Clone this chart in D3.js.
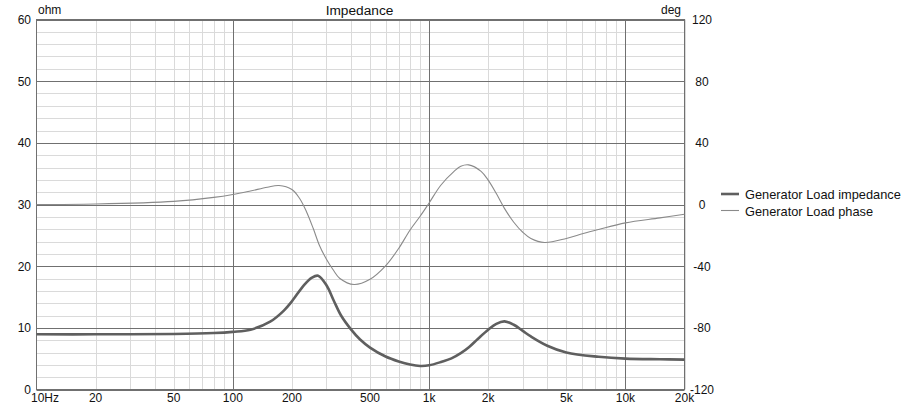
<!DOCTYPE html>
<html>
<head>
<meta charset="utf-8">
<script src="https://cdn.jsdelivr.net/npm/d3@7"></script>
<style>
body { margin:0; background:#fff; }
text { font-family: "Liberation Sans", Arial, sans-serif; font-size:12px; fill:#111; }
text.title { font-size:13.7px; }
text.leg { font-size:12.8px; }
</style>
</head>
<body>
<div id="chart"></div>
<script>
// impedance curve, frequency in Hz, value in ohm
var impFreq = [10, 20, 50, 80, 100, 123, 155, 182, 200, 230, 253, 272, 300, 327, 356, 400, 445, 500, 600, 700, 800, 900, 1000, 1160, 1300, 1450, 1600, 1770, 2000, 2200, 2420, 2700, 3000, 3300, 4000, 5000, 7300, 10000, 15000, 20000];
var impOhm  = [8.95, 8.95, 9.0, 9.15, 9.35, 9.7, 11.0, 12.8, 14.3, 16.9, 18.15, 18.45, 16.9, 14.4, 12.0, 9.75, 8.1, 6.8, 5.35, 4.55, 4.05, 3.82, 3.92, 4.5, 5.05, 5.9, 6.9, 8.2, 9.7, 10.65, 11.05, 10.5, 9.5, 8.6, 7.1, 6.0, 5.3, 5.0, 4.9, 4.85];

// phase curve, degrees
var phFreq = [10, 20, 50, 80, 100, 123, 150, 172, 200, 219, 237, 257, 276, 300, 327, 350, 415, 500, 600, 700, 800, 900, 1000, 1147, 1340, 1450, 1590, 1840, 2000, 2200, 2420, 2700, 3000, 3300, 3870, 5000, 6100, 7300, 10000, 15000, 20000];
var phDeg  = [0, 0.3, 2.0, 4.6, 6.5, 8.8, 11.2, 12.3, 9.7, 3.9, -4.5, -15.6, -26.4, -35.5, -43, -47.8, -51.9, -48.5, -39.8, -28.5, -16.5, -7.6, 1.0, 12.5, 21.5, 24.8, 25.7, 21.5, 15.8, 7.1, -2.5, -11.5, -18, -22, -24.6, -22, -18.8, -16.2, -11.9, -8.7, -6.3];

var xTicks = [10, 20, 50, 100, 200, 500, 1000, 2000, 5000, 10000, 20000];
var xTickLabels = ["10Hz", "20", "50", "100", "200", "500", "1k", "2k", "5k", "10k", "20k"];
var yTicks = [0, 10, 20, 30, 40, 50, 60];
var y2Ticks = [-120, -80, -40, 0, 40, 80, 120];
var seriesNames = ["Generator Load impedance", "Generator Load phase"];

var W = 919, H = 405;
var margin = {top: 19.5, left: 36.5, right: 234.5, bottom: 15.5};

var svg = d3.select("#chart").append("svg")
  .attr("width", W).attr("height", H);

var x = d3.scaleLog().domain([10, 20000]).range([margin.left, W - margin.right]);
var y = d3.scaleLinear().domain([0, 60]).range([H - margin.bottom, margin.top]);
var y2 = d3.scaleLinear().domain([-120, 120]).range([H - margin.bottom, margin.top]);

// minor grid
var minorX = [];
[10, 100, 1000, 10000].forEach(function(d) {
  for (var k = 2; k <= 9; k++) if (d * k <= 20000) minorX.push(d * k);
});
var minorY = d3.range(0, 61, 2).filter(function(v) { return v % 10 != 0; });

var grid = svg.append("g");
grid.selectAll(".mx").data(minorX).enter().append("line")
  .attr("x1", function(d) { return Math.round(x(d)) + 0.5; })
  .attr("x2", function(d) { return Math.round(x(d)) + 0.5; })
  .attr("y1", y(0)).attr("y2", y(60))
  .attr("stroke", "#dadada");
grid.selectAll(".my").data(minorY).enter().append("line")
  .attr("y1", function(d) { return Math.round(y(d)) + 0.5; })
  .attr("y2", function(d) { return Math.round(y(d)) + 0.5; })
  .attr("x1", x(10)).attr("x2", x(20000))
  .attr("stroke", "#dadada");

// major grid
grid.selectAll(".Mx").data([100, 1000, 10000]).enter().append("line")
  .attr("x1", function(d) { return Math.round(x(d)) + 0.5; })
  .attr("x2", function(d) { return Math.round(x(d)) + 0.5; })
  .attr("y1", y(0)).attr("y2", y(60))
  .attr("stroke", "#707070");
grid.selectAll(".My").data(yTicks).enter().append("line")
  .attr("y1", function(d) { return Math.round(y(d)) + 0.5; })
  .attr("y2", function(d) { return Math.round(y(d)) + 0.5; })
  .attr("x1", x(10)).attr("x2", x(20000))
  .attr("stroke", "#707070");

// frame
svg.append("rect")
  .attr("x", x(10)).attr("y", y(60))
  .attr("width", x(20000) - x(10)).attr("height", y(0) - y(60))
  .attr("fill", "none").attr("stroke", "#707070");

// curves
var impLine = d3.line()
  .x(function(d, i) { return x(impFreq[i]); })
  .y(function(d) { return y(d); })
  .curve(d3.curveCatmullRom.alpha(0.5));
var phLine = d3.line()
  .x(function(d, i) { return x(phFreq[i]); })
  .y(function(d) { return y2(d); })
  .curve(d3.curveCatmullRom.alpha(0.5));

svg.append("path").attr("d", phLine(phDeg))
  .attr("fill", "none").attr("stroke", "#8a8a8a").attr("stroke-width", 1.1);
svg.append("path").attr("d", impLine(impOhm))
  .attr("fill", "none").attr("stroke", "#5f5f5f").attr("stroke-width", 2.6);

// axes text
svg.selectAll(".yl").data(yTicks).enter().append("text")
  .attr("x", 31).attr("y", function(d) { return y(d) + 4.5; })
  .attr("text-anchor", "end")
  .text(function(d) { return d; });
svg.selectAll(".y2l").data(y2Ticks).enter().append("text")
  .attr("x", 702).attr("y", function(d) { return y2(d) + 4.5; })
  .attr("text-anchor", "middle")
  .text(function(d) { return d; });
svg.selectAll(".xl").data(xTicks).enter().append("text")
  .attr("x", function(d, i) { return i == 0 ? 31 : x(d); })
  .attr("y", 402)
  .attr("text-anchor", function(d, i) { return i == 0 ? "start" : "middle"; })
  .text(function(d, i) { return xTickLabels[i]; });

svg.append("text").attr("x", 38).attr("y", 14).text("ohm");
svg.append("text").attr("x", 681).attr("y", 14).attr("text-anchor", "end").text("deg");
svg.append("text").attr("class", "title").attr("x", (x(10) + x(20000)) / 2 - 1).attr("y", 14.5)
  .attr("text-anchor", "middle").text("Impedance");

// legend
var leg = svg.append("g");
leg.append("line").attr("x1", 721).attr("x2", 739).attr("y1", 194).attr("y2", 194)
  .attr("stroke", "#5f5f5f").attr("stroke-width", 2.6);
leg.append("line").attr("x1", 721).attr("x2", 739).attr("y1", 210.5).attr("y2", 210.5)
  .attr("stroke", "#8a8a8a").attr("stroke-width", 1.1);
leg.selectAll(".lt").data(seriesNames).enter().append("text")
  .attr("class", "leg")
  .attr("x", 745).attr("y", function(d, i) { return 199 + i * 16.5; })
  .text(function(d) { return d; });
</script>
</body>
</html>
